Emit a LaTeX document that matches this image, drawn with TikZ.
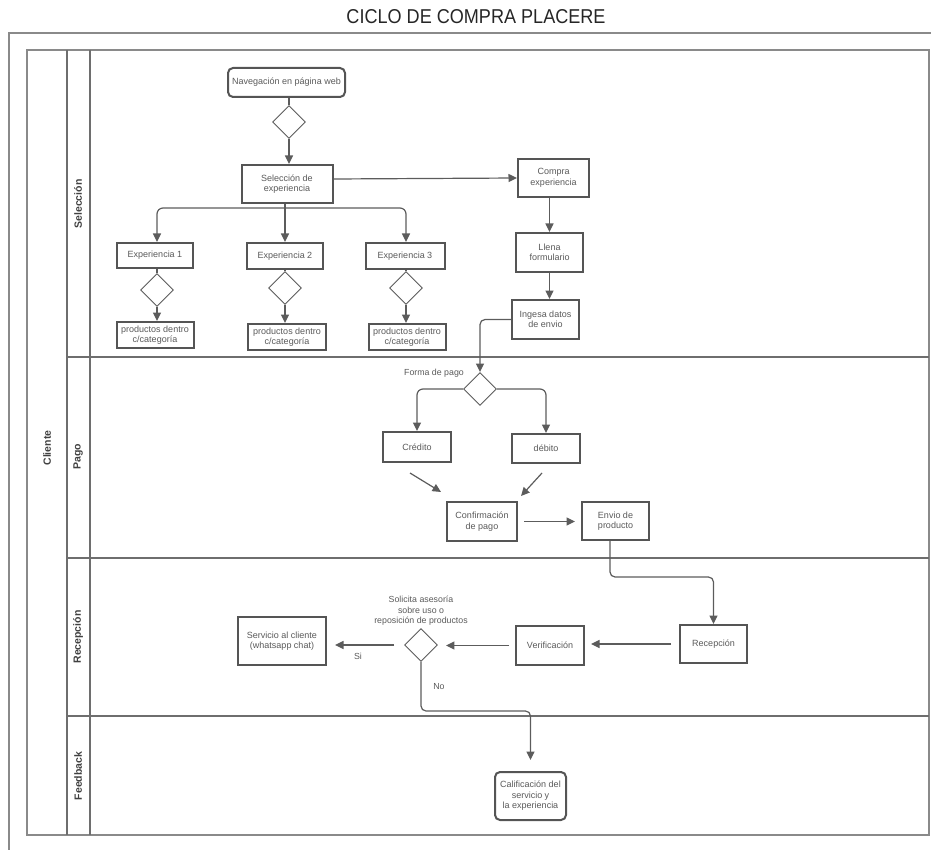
\documentclass[tikz,border=0pt]{standalone}
\usepackage{fontspec}
\setmainfont{Liberation Sans}
\usetikzlibrary{shapes.geometric,arrows.meta,calc}
\definecolor{framegray}{HTML}{8A8A8A}
\definecolor{lanegray}{HTML}{6E6E6E}
\definecolor{boxgray}{HTML}{555555}
\definecolor{txtgray}{HTML}{5A5A5A}
\definecolor{arrgray}{HTML}{5C5C5C}
\begin{document}
\begin{tikzpicture}[x=1pt,y=-1pt,
  box/.style={draw=boxgray, line width=2pt, fill=white, text=txtgray,
    font=\fontsize{9}{10.5}\selectfont, align=center, inner sep=0pt},
  rbox/.style={box, rounded corners=5pt},
  dec/.style={diamond, draw=arrgray, line width=0.9pt, fill=white,
    minimum width=33pt, minimum height=33pt, inner sep=0pt},
  arr/.style={draw=arrgray, line width=1.2pt, -{Triangle[length=8.5pt,width=8pt]}},
  plain/.style={draw=arrgray, line width=1.2pt},
  lbl/.style={text=txtgray, font=\fontsize{8.8}{10.8}\selectfont, align=center, inner sep=0pt},
  lane/.style={rotate=90, text=black!75, font=\fontsize{10.5}{12}\selectfont\bfseries, inner sep=0pt}
]
\useasboundingbox (0,0) rectangle (931,850);

% title
\node[inner sep=0pt, anchor=base] (title) at (476,24)
  {\resizebox{259pt}{14pt}{\color{black!85}CICLO DE COMPRA PLACERE}};

% outer frame (runs off the page at right and bottom)
\draw[framegray, line width=1.6pt] (9,852) -- (9,33) -- (933,33);

% swimlane table
\draw[framegray, line width=1.2pt] (27,50) rectangle (929,835);
\draw[lanegray, line width=1.1pt] (67,50) -- (67,835) (90,50) -- (90,835);
\draw[lanegray, line width=1.1pt] (67,357) -- (929,357) (67,558) -- (929,558) (67,716) -- (929,716);

\node[lane] (cliente) at (47,448) {Cliente};
\node[lane] (lsel) at (78,204) {Selección};
\node[lane] (lpago) at (78,457) {Pago};
\node[lane] (lrec) at (78,637) {Recepción};
\node[lane] (lfeed) at (78,776) {Feedback};

% ---- Selección lane
\node[rbox, minimum width=117pt, minimum height=29pt] (nav) at (286.5,82.5) {Navegación en página web};
\node[dec] (d1) at (289,122) {};
\node[box, minimum width=91pt, minimum height=38pt] (sel) at (287,184) {Selección de\\experiencia};
\node[box, minimum width=71pt, minimum height=38pt] (compra) at (553.5,178) {Compra\\experiencia};
\node[box, minimum width=67pt, minimum height=39pt] (llena) at (549.5,252.5) {Llena\\formulario};
\node[box, minimum width=67pt, minimum height=39pt] (ingesa) at (545.5,319.5) {Ingesa datos\\de envio};

\node[box, minimum width=76pt, minimum height=25pt] (exp1) at (155,255.5) {Experiencia 1};
\node[box, minimum width=76pt, minimum height=26pt] (exp2) at (285,256) {Experiencia 2};
\node[box, minimum width=79pt, minimum height=26pt] (exp3) at (405,256) {Experiencia 3};
\node[dec] (de1) at (157,290) {};
\node[dec] (de2) at (285,288) {};
\node[dec] (de3) at (406,288) {};
\node[box, minimum width=77pt, minimum height=26pt] (prod1) at (155,335) {productos dentro\\c/categoría};
\node[box, minimum width=78pt, minimum height=26pt] (prod2) at (287,337) {productos dentro\\c/categoría};
\node[box, minimum width=77pt, minimum height=26pt] (prod3) at (407,337) {productos dentro\\c/categoría};

\draw[plain] (nav.south -| d1.north) -- (d1.north);
\draw[arr] (d1.south) -- (d1.south |- sel.north);
\draw[arr] ([yshift=5pt]sel.east) -- (compra.west);
\draw[arr] (compra.south -| llena.north) -- (llena.north);
\draw[arr] (llena.south) -- (llena.south |- ingesa.north);

\coordinate (split) at (285,208);
\draw[plain] (sel.south -| split) -- (split);
\draw[arr, rounded corners=6pt] (split) -| (exp1.north -| de1.north);
\draw[arr, rounded corners=6pt] (split) -| (exp3.north -| de3.north);
\draw[arr] (split) -- (exp2.north);
\foreach \i in {1,2,3}{
  \draw[plain] (exp\i.south -| de\i.north) -- (de\i.north);
  \draw[arr] (de\i.south) -- (de\i.south |- prod\i.north);
}

% ---- Pago lane
\node[dec] (dpago) at (480,389) {};
\node[lbl, anchor=east] (fpago) at (464,373) {Forma de pago};
\node[box, minimum width=68pt, minimum height=30pt] (credito) at (417,447) {Crédito};
\node[box, minimum width=68pt, minimum height=29pt] (debito) at (546,448.5) {débito};
\node[box, minimum width=70pt, minimum height=39pt] (conf) at (482,521.5) {Confirmación\\de pago};
\node[box, minimum width=67pt, minimum height=38pt] (envio) at (615.5,521) {Envio de\\producto};

\draw[arr, rounded corners=5pt] (ingesa.west) -| (dpago.north);
\draw[arr, rounded corners=6pt] (dpago.west) -| (credito.north);
\draw[arr, rounded corners=6pt] (dpago.east) -| (debito.north);
\draw[arr] ([shift={(-7,10)}]credito.south) -- ([shift={(-41,-9)}]conf.north);
\draw[arr] ([shift={(-4,9)}]debito.south) -- ([shift={(39,-5)}]conf.north);
\draw[arr, shorten <=6pt, shorten >=6pt] (conf.east) -- (conf.east -| envio.west);

% ---- Recepción lane
\node[box, minimum width=67pt, minimum height=38pt] (recep) at (713.5,644) {Recepción};
\node[box, minimum width=68pt, minimum height=39pt] (verif) at (550,645.5) {Verificación};
\node[dec] (dsol) at (421,645) {};
\node[lbl, anchor=south] (qsol) at (421,626) {Solicita asesoría\\sobre uso o\\reposición de productos};
\node[box, minimum width=88pt, minimum height=48pt] (serv) at (282,641) {Servicio al cliente\\(whatsapp chat)};
\node[lbl] (si) at (358,656) {Si};
\node[lbl] (no) at (439,687) {No};

\draw[arr, rounded corners=5pt] ([xshift=-5.5pt]envio.south) |- ($(recep.north)+(0,-47)$) -- (recep.north);
\draw[arr, shorten <=8pt, shorten >=6pt] (recep.west) -- (recep.west -| verif.east);
\draw[arr, shorten <=6pt, shorten >=8pt] (verif.west) -- (verif.west -| dsol.east);
\draw[arr, shorten <=10pt, shorten >=8pt] (dsol.west) -- (dsol.west -| serv.east);

% ---- Feedback lane
\node[rbox, minimum width=71pt, minimum height=48pt] (calif) at (530.5,796) {Calificación del\\servicio y\\la experiencia};
\coordinate (nobend) at (530.5,711);
\draw[arr, rounded corners=5pt, shorten >=11pt] (dsol.south) |- (nobend) -- (calif.north);
\end{tikzpicture}
\end{document}
